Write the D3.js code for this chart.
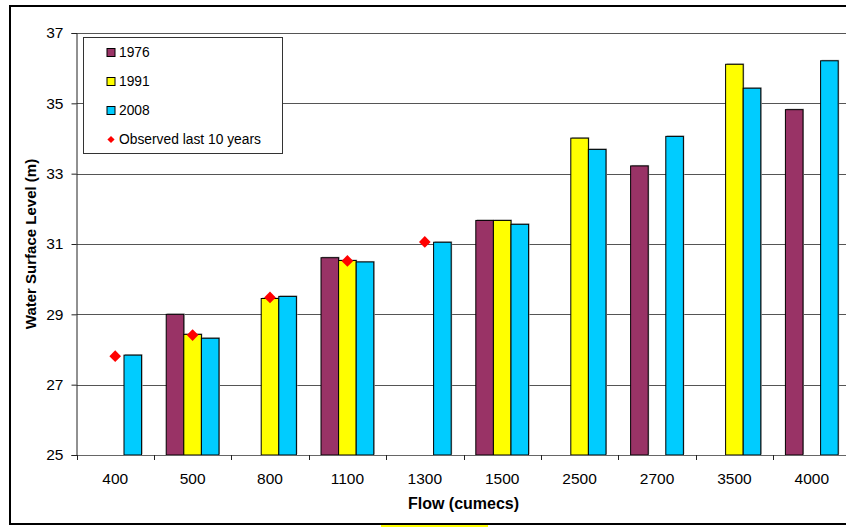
<!DOCTYPE html>
<html>
<head>
<meta charset="utf-8">
<script src="https://cdn.jsdelivr.net/npm/d3@7"></script>
<style>
  html, body { margin: 0; padding: 0; background: #fff; overflow: hidden; }
  svg { display: block; font-family: "Liberation Sans", Arial, sans-serif; }
</style>
</head>
<body>
<svg id="chart" width="846" height="527"></svg>
<script>
// Flow categories (cumecs)
const flows = ["400", "500", "800", "1100", "1300", "1500", "2500", "2700", "3500", "4000"];

// Modelled water surface levels (m) per survey year; null = not modelled
const series1976 = [null, 29.0, null, 30.61, null, 31.67, null, 33.22, null, 34.82];
const series1991 = [null, 28.43, 29.45, 30.53, null, 31.67, 34.01, null, 36.11, null];
const series2008 = [27.84, 28.32, 29.51, 30.49, 31.05, 31.56, 33.69, 34.06, 35.43, 36.21];

// Observed levels over the last 10 years
const observed = [27.81, 28.41, 29.48, 30.52, 31.06, null, null, null, null, null];

const seriesNames = ["1976", "1991", "2008"];
const seriesColors = { "1976": "#993366", "1991": "#FFFF00", "2008": "#00CCFF" };
const seriesValues = { "1976": series1976, "1991": series1991, "2008": series2008 };

const yTicks = [25, 27, 29, 31, 33, 35, 37];

const svg = d3.select("#chart");

const plot = { left: 76.5, right: 850.5, top: 33, bottom: 455 };

const x0 = d3.scaleBand().domain(flows).range([plot.left, plot.right]).padding(0);
const x1 = d3.scaleBand().domain(seriesNames).range([0, x0.bandwidth()])
  .paddingInner(0).paddingOuter(0.7);
const y = d3.scaleLinear().domain([25, 37]).range([plot.bottom, plot.top]);

// Outer frame
svg.append("rect")
  .attr("x", 10).attr("y", 6).attr("width", 850).attr("height", 518)
  .attr("fill", "none").attr("stroke", "#000").attr("stroke-width", 2);
svg.append("rect")
  .attr("x", 381).attr("y", 525).attr("width", 107).attr("height", 2)
  .attr("fill", "#FFFF00");

// Horizontal gridlines
svg.append("g")
  .selectAll("line")
  .data(yTicks.filter(t => t > 25))
  .join("line")
  .attr("x1", plot.left).attr("x2", plot.right)
  .attr("y1", d => Math.round(y(d)) + 0.5).attr("y2", d => Math.round(y(d)) + 0.5)
  .attr("stroke", "#555").attr("stroke-width", 1);

// Bars
const groups = svg.append("g")
  .selectAll("g")
  .data(flows)
  .join("g")
  .attr("transform", d => `translate(${x0(d)},0)`);

const barData = (f, i) => seriesNames
  .map(s => ({ s, v: seriesValues[s][i] }))
  .filter(d => d.v !== null);

groups.selectAll("rect.shadow")
  .data((f, i) => barData(f, i))
  .join("rect")
  .attr("class", "shadow")
  .attr("x", d => x1(d.s) + 1)
  .attr("y", d => y(d.v) - 1)
  .attr("width", x1.bandwidth())
  .attr("height", d => y(25) - y(d.v))
  .attr("fill", "#b0b0b0");

groups.selectAll("rect.bar")
  .data((f, i) => barData(f, i))
  .join("rect")
  .attr("class", "bar")
  .attr("x", d => x1(d.s))
  .attr("y", d => y(d.v))
  .attr("width", x1.bandwidth())
  .attr("height", d => y(25) - y(d.v))
  .attr("fill", d => seriesColors[d.s])
  .attr("stroke", "#000").attr("stroke-width", 1);

// Axes
const yAxis = d3.axisLeft(y).tickValues(yTicks).tickSize(5).tickPadding(8);
const gy = svg.append("g").attr("transform", `translate(${plot.left},0)`).call(yAxis);
gy.select(".domain").attr("stroke", "#222");
gy.selectAll(".tick line").attr("stroke", "#222");
gy.selectAll(".tick text").attr("font-size", 15.5).attr("fill", "#000")
  .attr("font-family", "Liberation Sans, Arial, sans-serif");

const xAxis = d3.axisBottom(x0).tickSize(0).tickPadding(18);
const gx = svg.append("g").attr("transform", `translate(0,${plot.bottom})`).call(xAxis);
gx.select(".domain").attr("stroke", "#666");
gx.selectAll(".tick text").attr("font-size", 15.5).attr("fill", "#000")
  .attr("font-family", "Liberation Sans, Arial, sans-serif");

// Category boundary ticks
const bounds = flows.map(f => x0(f)).concat([plot.right]);
svg.append("g")
  .selectAll("line")
  .data(bounds)
  .join("line")
  .attr("x1", d => Math.round(d) + 0.5).attr("x2", d => Math.round(d) + 0.5)
  .attr("y1", plot.bottom).attr("y2", plot.bottom + 5)
  .attr("stroke", "#222");

// Observed markers
const diamond = d3.symbol().type(d3.symbolSquare).size(68);
svg.append("g")
  .selectAll("path")
  .data(flows.map((f, i) => ({ f, v: observed[i] })).filter(d => d.v !== null))
  .join("path")
  .attr("d", diamond)
  .attr("transform", d => `translate(${x0(d.f) + x0.bandwidth() / 2},${y(d.v)}) rotate(45)`)
  .attr("fill", "#FF0000");

// Axis titles
svg.append("text")
  .attr("x", (plot.left + plot.right) / 2).attr("y", 509)
  .attr("text-anchor", "middle")
  .attr("font-size", 16).attr("font-weight", "bold")
  .text("Flow (cumecs)");

svg.append("text")
  .attr("transform", `translate(36,${(plot.top + plot.bottom) / 2}) rotate(-90)`)
  .attr("text-anchor", "middle")
  .attr("font-size", 15).attr("font-weight", "bold")
  .text("Water Surface Level (m)");

// Legend
const legend = svg.append("g");
legend.append("rect")
  .attr("x", 83.5).attr("y", 37.5).attr("width", 199).attr("height", 116)
  .attr("fill", "#fff").attr("stroke", "#333").attr("stroke-width", 1);

const legendRows = seriesNames.map(s => ({ label: s, kind: "bar" }))
  .concat([{ label: "Observed last 10 years", kind: "point" }]);

const rowY = i => 52.5 + i * 29;
legendRows.forEach((r, i) => {
  if (r.kind === "bar") {
    legend.append("rect")
      .attr("x", 107).attr("y", rowY(i) - 4).attr("width", 8).attr("height", 8)
      .attr("fill", seriesColors[r.label]).attr("stroke", "#000").attr("stroke-width", 1);
  } else {
    legend.append("path")
      .attr("d", d3.symbol().type(d3.symbolSquare).size(26)())
      .attr("transform", `translate(111,${rowY(i)}) rotate(45)`)
      .attr("fill", "#FF0000");
  }
  legend.append("text")
    .attr("x", 119).attr("y", rowY(i)).attr("dy", "0.36em")
    .attr("font-size", 13.8).attr("fill", "#000")
    .text(r.label);
});
</script>
</body>
</html>
